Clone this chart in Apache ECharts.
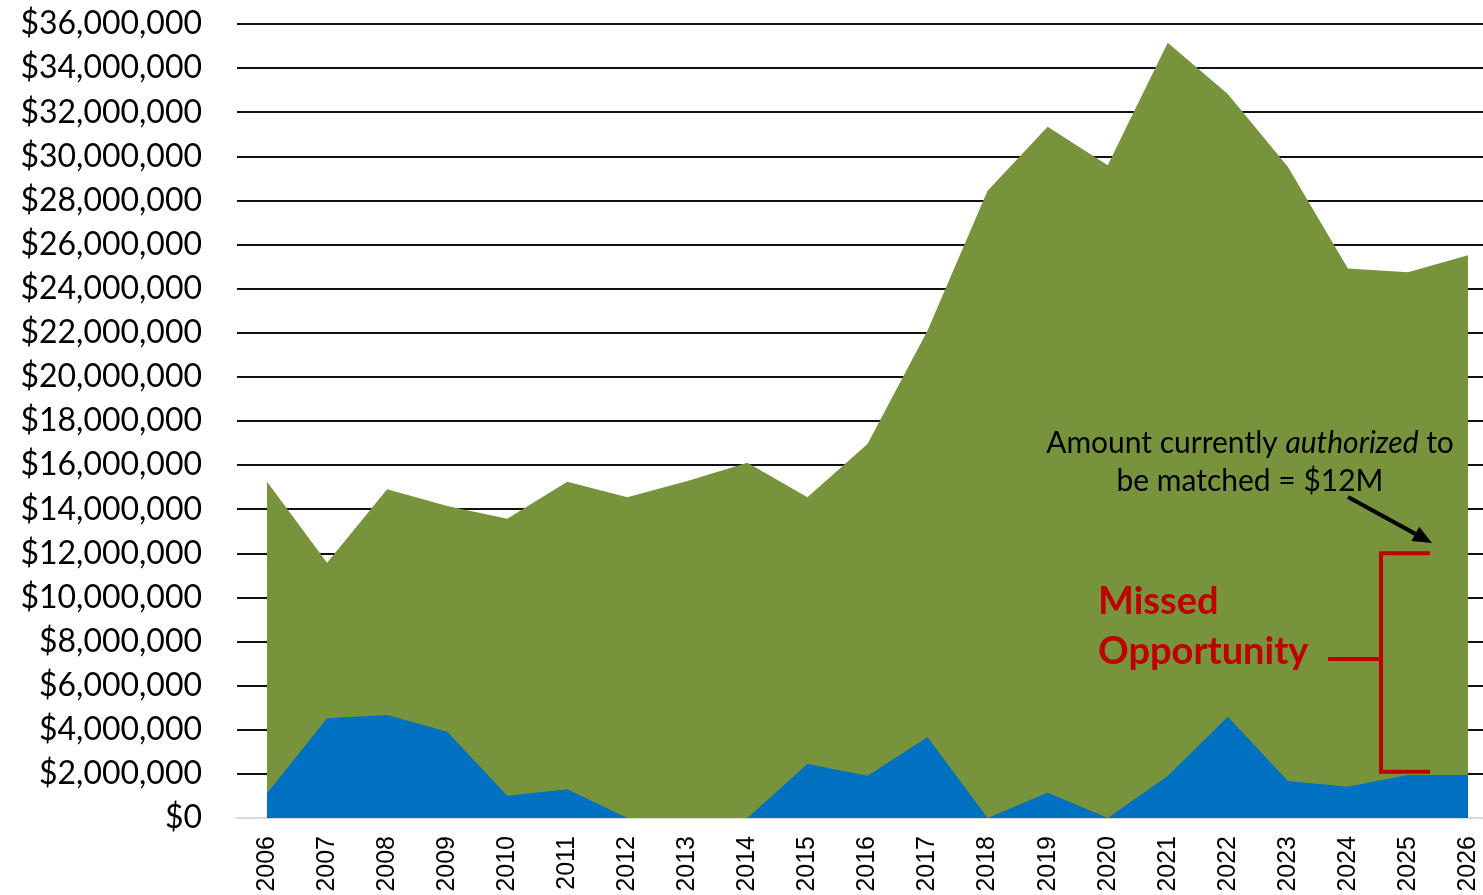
<!DOCTYPE html>
<html>
<head>
<meta charset="utf-8">
<script src="https://cdn.jsdelivr.net/npm/echarts@6/dist/echarts.min.js"></script>
<style>
  html, body { margin: 0; padding: 0; background: #fff; }
  #chart { width: 1483px; height: 895px; }
</style>
</head>
<body>
<div id="chart"></div>
<script>
// years on the x axis
const years = ['2006','2007','2008','2009','2010','2011','2012','2013','2014','2015','2016',
  '2017','2018','2019','2020','2021','2022','2023','2024','2025','2026']
// total amount (green area)
const totalAmount = [15250000, 11570000, 14900000, 14150000, 13570000, 15250000, 14540000,
  15280000, 16110000, 14540000, 16960000, 22100000, 28440000, 31340000, 29600000,
  35150000, 32830000, 29530000, 24920000, 24740000, 25510000]
// amount matched (blue area)
const matchedAmount = [1120000, 4520000, 4670000, 3910000, 1010000, 1300000, 0, 0, 0,
  2450000, 1920000, 3660000, 0, 1150000, 0, 1900000, 4590000, 1680000, 1420000,
  1950000, 1950000]
// y axis range
const yMax = 36000000
const yStep = 2000000
// bracket levels of the annotation
const authorizedLevel = 12000000
const bracketBottomLevel = 2100000

const green = '#77933C'
const blue = '#0070C0'
const red = '#C00000'

const chart = echarts.init(document.getElementById('chart'))

chart.setOption({
  animation: false,
  grid: { left: 237, top: 24, width: 1261, height: 794, outerBoundsMode: 'none' },
  xAxis: [
    {
      type: 'category',
      data: years,
      boundaryGap: true,
      axisLine: { lineStyle: { color: '#d9d9d9', width: 2 } },
      axisTick: { length: 8, lineStyle: { color: '#d9d9d9', width: 2 } },
      axisLabel: {
        rotate: 90,
        interval: 0,
        margin: 18,
        fontFamily: 'Liberation Sans',
        fontSize: 25,
        color: '#000'
      }
    },
    {
      // inner half of the crossing ticks
      type: 'category',
      data: years,
      position: 'bottom',
      boundaryGap: true,
      axisLine: { show: false },
      axisTick: { inside: true, length: 8, lineStyle: { color: '#d9d9d9', width: 2 } },
      axisLabel: { show: false },
      z: 5
    }
  ],
  yAxis: {
    type: 'value',
    min: 0,
    max: yMax,
    interval: yStep,
    axisLine: { show: false },
    axisTick: { show: false },
    splitLine: { showMinLine: false, lineStyle: { color: '#111', width: 2 } },
    axisLabel: {
      margin: 35,
      fontFamily: 'Lato',
      fontSize: 32,
      color: '#000',
      formatter: v => '$' + v.toLocaleString('en-US')
    }
  },
  series: [
    {
      name: 'Total',
      type: 'line',
      data: totalAmount,
      symbol: 'none',
      lineStyle: { width: 0 },
      areaStyle: { color: green, opacity: 1 }
    },
    {
      name: 'Matched',
      type: 'line',
      data: matchedAmount,
      symbol: 'none',
      lineStyle: { width: 0 },
      areaStyle: { color: blue, opacity: 1 }
    }
  ]
})

// annotations
const yTop = chart.convertToPixel({ yAxisIndex: 0 }, authorizedLevel)
const yBot = chart.convertToPixel({ yAxisIndex: 0 }, bracketBottomLevel)
const yMid = 659

// arrow
const tail = [1348, 497]
const tip = [1432, 543]
const dx = tip[0] - tail[0], dy = tip[1] - tail[1]
const len = Math.sqrt(dx * dx + dy * dy)
const ux = dx / len, uy = dy / len
const headLen = 19, headHalf = 8
const base = [tip[0] - ux * headLen, tip[1] - uy * headLen]

chart.setOption({
  graphic: [
    {
      type: 'polyline',
      shape: { points: [[1430, yTop], [1381, yTop], [1381, yBot], [1430, yBot]] },
      style: { stroke: red, lineWidth: 4, fill: null },
      z: 100
    },
    {
      type: 'line',
      shape: { x1: 1328, y1: yMid, x2: 1381, y2: yMid },
      style: { stroke: red, lineWidth: 4 },
      z: 100
    },
    {
      type: 'line',
      shape: { x1: tail[0], y1: tail[1], x2: base[0], y2: base[1] },
      style: { stroke: '#000', lineWidth: 4 },
      z: 100
    },
    {
      type: 'polygon',
      shape: {
        points: [
          tip,
          [base[0] - uy * headHalf, base[1] + ux * headHalf],
          [base[0] + uy * headHalf, base[1] - ux * headHalf]
        ]
      },
      style: { fill: '#000' },
      z: 100
    },
    {
      type: 'text',
      x: 1098, y: 602,
      style: { text: 'Missed', fill: red, font: 'bold 38px Lato', align: 'left', verticalAlign: 'middle' },
      z: 100
    },
    {
      type: 'text',
      x: 1098, y: 652,
      style: { text: 'Opportunity', fill: red, font: 'bold 38px Lato', align: 'left', verticalAlign: 'middle' },
      z: 100
    },
    {
      type: 'text',
      x: 1250, y: 443,
      style: {
        text: '{n|Amount currently }{i|authorized}{n| to}',
        align: 'center',
        verticalAlign: 'middle',
        rich: {
          n: { fontFamily: 'Lato', fontSize: 30, fill: '#000', color: '#000' },
          i: { fontFamily: 'Lato', fontSize: 30, fontStyle: 'italic', fill: '#000', color: '#000' }
        }
      },
      z: 100
    },
    {
      type: 'text',
      x: 1250, y: 481,
      style: { text: 'be matched = $12M', fill: '#000', font: '30px Lato', align: 'center', verticalAlign: 'middle' },
      z: 100
    }
  ]
})
</script>
</body>
</html>
